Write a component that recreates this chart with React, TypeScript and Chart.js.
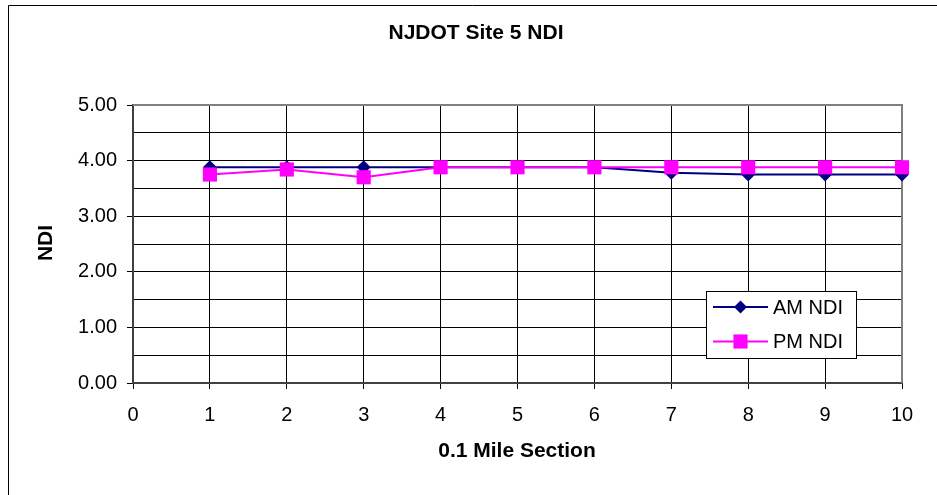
import React, { useEffect, useRef } from 'react';
import { Chart, registerables } from 'chart.js';

Chart.register(...registerables);

// 0.1 mile sections along the site
const sections = [1, 2, 3, 4, 5, 6, 7, 8, 9, 10];
// NDI readings per section
const amNdi = [3.88, 3.88, 3.88, 3.88, 3.88, 3.88, 3.78, 3.75, 3.75, 3.75];
const pmNdi = [3.75, 3.84, 3.7, 3.88, 3.88, 3.88, 3.88, 3.88, 3.88, 3.88];
const seriesLabels = ['AM NDI', 'PM NDI'];
const chartTitle = 'NJDOT Site 5 NDI';
const xTitle = '0.1 Mile Section';
const yTitle = 'NDI';

const FONT = '"Liberation Sans", Arial, Helvetica, sans-serif';
const W = 937;
const H = 495;
const CLEAR = 'rgba(0,0,0,0)';

const AM_COLOR = '#000080';
const PM_COLOR = '#FF00FF';

function drawMarker(ctx: CanvasRenderingContext2D, style: string, x: number, y: number, r: number, color: string) {
  ctx.fillStyle = color;
  ctx.beginPath();
  if (style === 'rectRot') {
    ctx.moveTo(x, y - r);
    ctx.lineTo(x + r, y);
    ctx.lineTo(x, y + r);
    ctx.lineTo(x - r, y);
    ctx.closePath();
  } else {
    const s = r * Math.SQRT1_2;
    ctx.rect(x - s, y - s, 2 * s, 2 * s);
  }
  ctx.fill();
}

// Page frame, plot border, titles
const framePlugin = {
  id: 'frame',
  beforeDraw(chart: any) {
    const ctx = chart.ctx as CanvasRenderingContext2D;
    ctx.save();
    ctx.fillStyle = '#fff';
    ctx.fillRect(0, 0, W, H);
    ctx.strokeStyle = '#000';
    ctx.lineWidth = 1;
    ctx.beginPath();
    ctx.moveTo(8.5, H);
    ctx.lineTo(8.5, 5.5);
    ctx.lineTo(W, 5.5);
    ctx.stroke();
    ctx.restore();
  },
  beforeDatasetsDraw(chart: any) {
    const ctx = chart.ctx as CanvasRenderingContext2D;
    const a = chart.chartArea;
    ctx.save();
    ctx.strokeStyle = '#808080';
    ctx.lineWidth = 2;
    ctx.beginPath();
    ctx.moveTo(a.left, a.top);
    ctx.lineTo(a.right, a.top);
    ctx.lineTo(a.right, a.bottom);
    ctx.stroke();
    ctx.restore();
  },
  afterDraw(chart: any) {
    const ctx = chart.ctx as CanvasRenderingContext2D;
    ctx.save();
    ctx.fillStyle = '#000';
    ctx.textAlign = 'center';
    ctx.textBaseline = 'middle';
    ctx.font = `bold 21px ${FONT}`;
    ctx.fillText(chartTitle, 476, 33);
    ctx.fillText(xTitle, 517, 451);
    ctx.translate(46, 243);
    ctx.rotate(-Math.PI / 2);
    ctx.font = `bold 21px ${FONT}`;
    ctx.fillText(yTitle, 0, 0);
    ctx.restore();
  },
};

// Boxed legend inside the plot
const legendPlugin = {
  id: 'boxLegend',
  afterDatasetsDraw(chart: any) {
    const ctx = chart.ctx as CanvasRenderingContext2D;
    const ds = chart.data.datasets;
    ctx.save();
    ctx.fillStyle = '#fff';
    ctx.fillRect(706.5, 291.5, 150, 67);
    ctx.strokeStyle = '#000';
    ctx.lineWidth = 1;
    ctx.strokeRect(706.5, 291.5, 150, 67);
    const rows = [307, 341.5];
    ds.forEach((d: any, i: number) => {
      const y = rows[i];
      ctx.strokeStyle = d.borderColor;
      ctx.lineWidth = 2;
      ctx.beginPath();
      ctx.moveTo(713, y);
      ctx.lineTo(768, y);
      ctx.stroke();
      drawMarker(ctx, d.pointStyle, 740.5, y, d.pointStyle === 'rectRot' ? 6.5 : 10, d.pointBackgroundColor);
      ctx.fillStyle = '#000';
      ctx.font = `20px ${FONT}`;
      ctx.textAlign = 'left';
      ctx.textBaseline = 'middle';
      ctx.fillText(d.label, 773, y + 1);
    });
    ctx.restore();
  },
};

export default function App() {
  const canvasRef = useRef<HTMLCanvasElement | null>(null);

  useEffect(() => {
    const canvas = canvasRef.current;
    if (!canvas) return;
    const chart = new Chart(canvas, {
      type: 'line',
      data: {
        datasets: [
          {
            label: seriesLabels[0],
            data: sections.map((x, i) => ({ x, y: amNdi[i] })),
            borderColor: AM_COLOR,
            backgroundColor: AM_COLOR,
            pointBackgroundColor: AM_COLOR,
            pointBorderColor: AM_COLOR,
            borderWidth: 2,
            pointBorderWidth: 0,
            pointStyle: 'rectRot',
            pointRadius: 7,
            tension: 0,
            clip: false,
            order: 1,
          },
          {
            label: seriesLabels[1],
            data: sections.map((x, i) => ({ x, y: pmNdi[i] })),
            borderColor: PM_COLOR,
            backgroundColor: PM_COLOR,
            pointBackgroundColor: PM_COLOR,
            pointBorderColor: PM_COLOR,
            borderWidth: 2,
            pointBorderWidth: 0,
            pointStyle: 'rect',
            pointRadius: 10,
            tension: 0,
            clip: false,
            order: 0,
          },
        ],
      },
      options: {
        responsive: false,
        animation: false,
        events: [],
        layout: { padding: { top: 105, right: 35, left: 0, bottom: 0 } },
        plugins: {
          legend: { display: false },
          title: { display: false },
          tooltip: { enabled: false },
        },
        scales: {
          x: {
            type: 'linear',
            min: 0,
            max: 10,
            afterFit(s: any) {
              s.height = 112;
            },
            ticks: {
              stepSize: 1,
              padding: 14,
              color: '#000',
              autoSkip: false,
              maxRotation: 0,
              font: { family: FONT, size: 20 },
            },
            grid: {
              color: (c: any) => (c.tick && c.tick.value === 10 ? CLEAR : '#000'),
              tickColor: '#000',
              tickLength: 6,
              lineWidth: 1,
            },
            border: { color: '#404040', width: 2 },
          },
          y: {
            min: 0,
            max: 5,
            afterFit(s: any) {
              s.width = 133;
            },
            ticks: {
              stepSize: 0.5,
              padding: 10,
              color: '#000',
              autoSkip: false,
              font: { family: FONT, size: 20 },
              callback: (v: any) => (Number.isInteger(Number(v)) ? Number(v).toFixed(2) : ''),
            },
            grid: {
              color: (c: any) => (c.tick && c.tick.value === 5 ? CLEAR : '#000'),
              tickColor: (c: any) => (c.tick && Number.isInteger(c.tick.value) ? '#000' : CLEAR),
              tickLength: 6,
              lineWidth: 1,
            },
            border: { color: '#404040', width: 2 },
          },
        },
      },
      plugins: [framePlugin, legendPlugin],
    } as any);
    return () => chart.destroy();
  }, []);

  return (
    <div style={{ position: 'absolute', left: 0, top: 0, width: W, height: H }}>
      <canvas ref={canvasRef} width={W} height={H} style={{ display: 'block', width: W, height: H }} />
    </div>
  );
}
